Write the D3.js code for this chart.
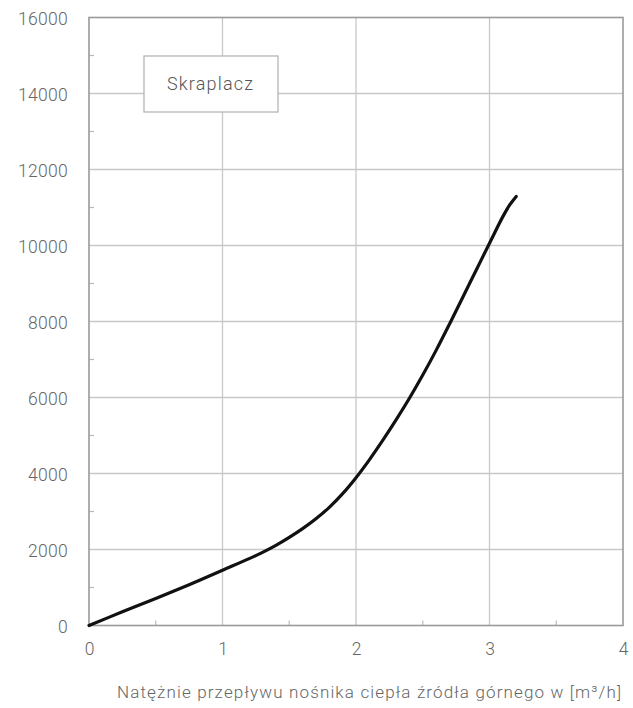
<!DOCTYPE html>
<html><head><meta charset="utf-8">
<script src="https://cdn.jsdelivr.net/npm/d3@7"></script>
<style>
html,body{margin:0;padding:0;background:#fff;}
svg text{font-family:Roboto,"Open Sans","DejaVu Sans",sans-serif;font-weight:300;}
</style></head>
<body>
<svg id="chart" width="633" height="708"></svg>
<script>
const flowX = [0, 0.25, 0.5, 0.75, 1.0, 1.2, 1.3, 1.4, 1.5, 1.6, 1.7, 1.8, 1.9, 2.0, 2.1, 2.2, 2.3, 2.4, 2.5, 2.6, 2.7, 2.8, 2.9, 3.0, 3.1, 3.15, 3.2];
const powerY = [0, 360, 710, 1075, 1455, 1760, 1925, 2110, 2320, 2550, 2810, 3110, 3470, 3890, 4360, 4870, 5410, 5980, 6590, 7240, 7930, 8640, 9350, 10060, 10760, 11060, 11290];
const xTicks = [0, 1, 2, 3, 4];
const yTicks = [0, 2000, 4000, 6000, 8000, 10000, 12000, 14000, 16000];
const xMinor = [0.5, 1.5, 2.5, 3.5];
const yMinor = [1000, 3000, 5000, 7000, 9000, 11000, 13000, 15000];
const seriesLabel = "Skraplacz";
const xTitle = "Natężnie przepływu nośnika ciepła źródła górnego w [m³/h]";

const svg = d3.select("#chart");
const m = {left: 89, right: 623, top: 17.5, bottom: 625.5};
const x = d3.scaleLinear().domain([0, 4]).range([m.left, m.right]);
const y = d3.scaleLinear().domain([0, 16000]).range([m.bottom, m.top]);

// grid
svg.append("g").selectAll("line").data(yTicks.slice(1, -1)).join("line")
  .attr("x1", m.left).attr("x2", m.right).attr("y1", d => y(d)).attr("y2", d => y(d))
  .attr("stroke", "#c8c8c8").attr("stroke-width", 1.3);
svg.append("g").selectAll("line").data(xTicks.slice(1, -1)).join("line")
  .attr("y1", m.top).attr("y2", m.bottom).attr("x1", d => x(d)).attr("x2", d => x(d))
  .attr("stroke", "#c8c8c8").attr("stroke-width", 1.3);

// minor ticks
svg.append("g").selectAll("line").data(yMinor).join("line")
  .attr("x1", m.left).attr("x2", m.left + 5).attr("y1", d => y(d)).attr("y2", d => y(d))
  .attr("stroke", "#bbb").attr("stroke-width", 1.2);
svg.append("g").selectAll("line").data(xMinor).join("line")
  .attr("y1", m.bottom).attr("y2", m.bottom - 5).attr("x1", d => x(d)).attr("x2", d => x(d))
  .attr("stroke", "#bbb").attr("stroke-width", 1.2);

// frame
svg.append("rect").attr("x", m.left).attr("y", m.top)
  .attr("width", m.right - m.left).attr("height", m.bottom - m.top)
  .attr("fill", "none").attr("stroke", "#9a9a9a").attr("stroke-width", 1.6);

// axes labels
const yAxis = d3.axisLeft(y).tickValues(yTicks).tickSize(0).tickPadding(21).tickFormat(d3.format("d"));
const ya = svg.append("g").attr("transform", `translate(${m.left},0)`).call(yAxis);
ya.select(".domain").remove();
ya.selectAll("text").attr("font-size", 17.5).attr("fill", "#666").attr("dy", "0.4em")
  .style("letter-spacing", "0.3px")
  .style("font-family", 'Roboto,"Open Sans",sans-serif').style("font-weight", 300);

const xAxis = d3.axisBottom(x).tickValues(xTicks).tickSize(0).tickPadding(17).tickFormat(d3.format("d"));
const xa = svg.append("g").attr("transform", `translate(0,${m.bottom})`).call(xAxis);
xa.select(".domain").remove();
xa.selectAll("text").attr("font-size", 17.5).attr("fill", "#666")
  .style("font-family", 'Roboto,"Open Sans",sans-serif').style("font-weight", 300);

// title
svg.append("text").attr("x", 117).attr("y", 698)
  .attr("font-size", 17).attr("fill", "#666")
  .attr("textLength", 504).attr("lengthAdjust", "spacing").text(xTitle);

// label box
svg.append("rect").attr("x", 144).attr("y", 56).attr("width", 134).attr("height", 56)
  .attr("fill", "#fff").attr("stroke", "#b5b5b5").attr("stroke-width", 1.3);
svg.append("text").attr("x", 167).attr("y", 90)
  .attr("font-size", 18).attr("fill", "#555")
  .attr("textLength", 86).attr("lengthAdjust", "spacing").text(seriesLabel);

// curve
const data = flowX.map((v, i) => [v, powerY[i]]);
svg.append("path").datum(data)
  .attr("d", d3.line().x(d => x(d[0])).y(d => y(d[1])).curve(d3.curveCatmullRom.alpha(0.5)))
  .attr("fill", "none").attr("stroke", "#111").attr("stroke-width", 3.2)
  .attr("stroke-linecap", "round");
</script>
</body></html>
